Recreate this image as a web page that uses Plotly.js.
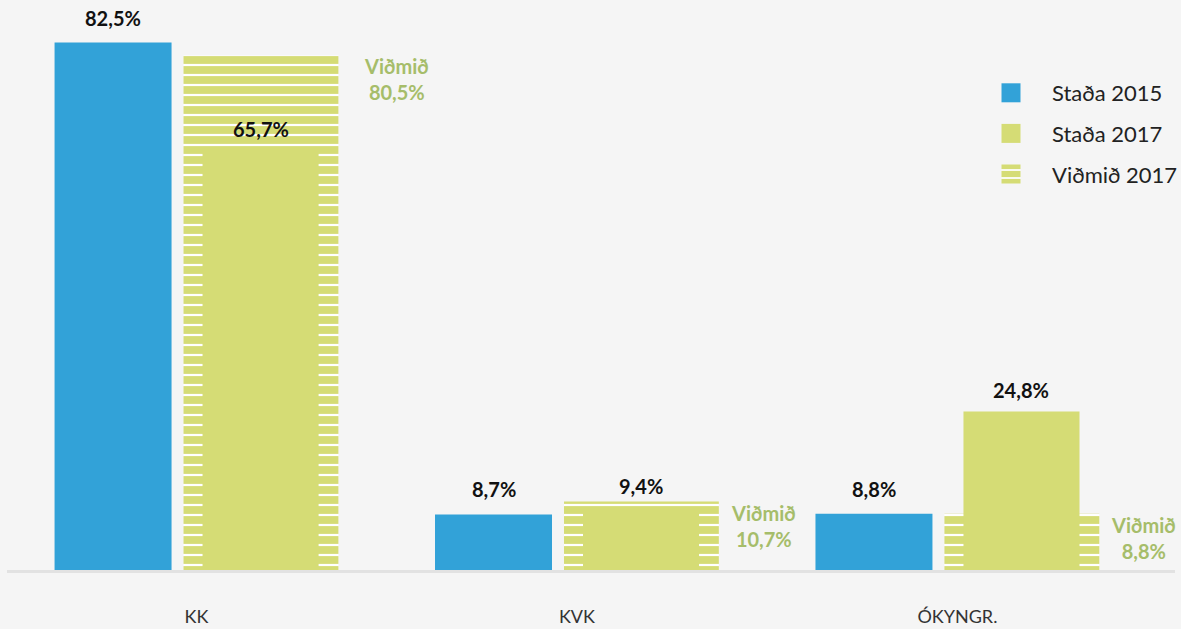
<!DOCTYPE html>
<html>
<head>
<meta charset="utf-8">
<script src="https://cdn.plot.ly/plotly-3.0.1.min.js"></script>
<style>
  html, body { margin: 0; padding: 0; background: #f5f5f5; }
  #chart { width: 1181px; height: 629px; }
</style>
</head>
<body>
<div id="chart"></div>
<script>
// ---- data ----
const categories = ["KK", "KVK", "ÓKYNGR."];
const stada2015 = [82.5, 8.7, 8.8];
const stada2017 = [65.7, 9.4, 24.8];
const vidmid2017 = [80.5, 10.7, 8.8];
const seriesNames = ["Staða 2015", "Staða 2017", "Viðmið 2017"];
const vidmidWord = "Viðmið";

// ---- style ----
const BLUE = "#32a2d8";
const GREEN = "#d5dc75";
const GREEN_TEXT = "#a6bd6a";
const FONT = "Lato, 'DejaVu Sans', sans-serif";
const idx = categories.map((c, i) => i);

const fmt = v => v.toFixed(1).replace(".", ",") + "%";

const blueOff = -0.373, blueW = 0.3075;
const stripeOff = -0.034, stripeW = 0.407;
const solidOff = 0.016, solidW = 0.305;

const traces = [
  {
    type: "bar", name: seriesNames[0], x: idx, y: stada2015,
    offset: blueOff, width: blueW,
    marker: { color: BLUE, line: { width: 0 } },
    legendgroup: "a", legendrank: 1, hoverinfo: "skip"
  },
  {
    type: "bar", name: seriesNames[2], x: idx, y: vidmid2017,
    offset: stripeOff, width: stripeW,
    marker: {
      color: GREEN, line: { width: 0 },
      pattern: { shape: "-", fillmode: "overlay", fgcolor: "#ffffff", fgopacity: 1, size: 10, solidity: 0.22 }
    },
    legendgroup: "c", legendrank: 3, hoverinfo: "skip"
  },
  {
    type: "bar", name: seriesNames[1], x: idx, y: stada2017,
    offset: solidOff, width: solidW,
    marker: { color: GREEN, line: { width: 0 } },
    legendgroup: "b", legendrank: 2, hoverinfo: "skip"
  }
];

const annotations = [];
const valFont = { family: FONT, size: 20, color: "#111111", weight: 700 };
idx.forEach(i => {
  annotations.push({
    x: i + blueOff + blueW / 2, y: stada2015[i], xref: "x", yref: "y",
    text: "<b>" + fmt(stada2015[i]) + "</b>", showarrow: false,
    yanchor: "middle", yshift: 25, font: valFont
  });
  // the 2017 label sits above whichever 2017 bar top is close above it
  const covered = vidmid2017[i] > stada2017[i] && vidmid2017[i] - stada2017[i] < 3;
  const top2017 = covered ? vidmid2017[i] : stada2017[i];
  annotations.push({
    x: i + solidOff + solidW / 2, y: top2017, xref: "x", yref: "y",
    text: "<b>" + fmt(stada2017[i]) + "</b>", showarrow: false,
    yanchor: "middle", yshift: covered ? 16 : 21, font: valFont
  });
  annotations.push({
    x: i + stripeOff + stripeW, y: vidmid2017[i], xref: "x", yref: "y",
    text: "<b>" + vidmidWord + "<br>" + fmt(vidmid2017[i]) + "</b>", showarrow: false,
    xanchor: "left", yanchor: "top", xshift: i === 0 ? 24 : 10, yshift: 3, align: "center",
    font: { family: FONT, size: 20, color: GREEN_TEXT }
  });
});

const plotL = 7, plotW = 1168;
const layout = {
  width: 1181, height: 629,
  paper_bgcolor: "#f5f5f5", plot_bgcolor: "#f5f5f5",
  margin: { l: plotL, r: 1181 - plotL - plotW, t: 10, b: 59, autoexpand: false },
  barmode: "overlay",
  showlegend: true,
  legend: {
    x: (1012 - plotL) / plotW, y: 1 - (72 - 10) / 560, xanchor: "left", yanchor: "top",
    font: { family: FONT, size: 22, color: "#222222" },
    bgcolor: "rgba(0,0,0,0)", traceorder: "grouped", tracegroupgap: 9,
    itemwidth: 30, itemclick: false, itemdoubleclick: false
  },
  xaxis: {
    range: [-0.498, 2.572], tickmode: "array", tickvals: idx, ticktext: categories,
    showgrid: false, zeroline: false, showline: true, linecolor: "#e2e2e2", linewidth: 3,
    ticks: "", ticklabelstandoff: 28, fixedrange: true, automargin: false,
    tickfont: { family: FONT, size: 18, color: "#333333" }
  },
  yaxis: {
    range: [0, 87.6], visible: false, showgrid: false, zeroline: false, fixedrange: true
  },
  annotations: annotations
};

Plotly.newPlot("chart", traces, layout, { staticPlot: true, displayModeBar: false }).then(gd => {
  // enlarge legend swatches and set them further left of the labels, as in the reference
  gd.querySelectorAll(".legend [clip-path]").forEach(el => el.removeAttribute("clip-path"));
  gd.querySelectorAll(".legendpoints path").forEach(p => {
    p.setAttribute("d", "M-11.5,9.5H-30.5V-9.5H-11.5Z");
  });
});
</script>
</body>
</html>
